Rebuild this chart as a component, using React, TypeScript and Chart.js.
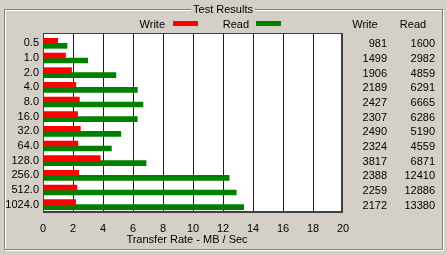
import React, { useEffect, useRef } from 'react';
import { Chart, registerables } from 'chart.js';

Chart.register(...registerables);

const blockSizes = ['0.5', '1.0', '2.0', '4.0', '8.0', '16.0', '32.0', '64.0', '128.0', '256.0', '512.0', '1024.0'];
const writeKB = [981, 1499, 1906, 2189, 2427, 2307, 2490, 2324, 3817, 2388, 2259, 2172];
const readKB = [1600, 2982, 4859, 6291, 6665, 6286, 5190, 4559, 6871, 12410, 12886, 13380];
const xTickValues = [0, 2, 4, 6, 8, 10, 12, 14, 16, 18, 20];
const seriesNames = ['Write', 'Read'];
const seriesColors = ['#ff0000', '#008000'];

const FONT_FAMILY = '"Liberation Sans", Arial, sans-serif';
const FONT = '11px ' + FONT_FAMILY;
const BG = '#d4d0c8';

export default function App() {
  const ref = useRef<HTMLCanvasElement>(null);

  useEffect(() => {
    if (!ref.current) return;

    const decor = {
      id: 'decor',
      beforeDraw(chart: any) {
        const ctx = chart.ctx as CanvasRenderingContext2D;
        ctx.save();
        ctx.fillStyle = BG;
        ctx.fillRect(0, 0, chart.width, chart.height);
        // etched group box
        ctx.lineWidth = 1;
        ctx.strokeStyle = '#ffffff';
        ctx.strokeRect(5.5, 10.5, 438, 240);
        ctx.strokeStyle = '#808080';
        ctx.strokeRect(4.5, 9.5, 438, 240);
        // group title
        ctx.font = FONT;
        const title = 'Test Results';
        const tw = ctx.measureText(title).width;
        const tx = 223;
        ctx.fillStyle = BG;
        ctx.fillRect(tx - tw / 2 - 2, 3, tw + 4, 12);
        ctx.fillStyle = '#000';
        ctx.textAlign = 'center';
        ctx.textBaseline = 'alphabetic';
        ctx.fillText(title, tx, 13);
        // plot background
        ctx.fillStyle = '#ffffff';
        ctx.fillRect(43, 33, 300, 179);
        ctx.restore();
      },
      beforeDatasetsDraw(chart: any) {
        const ctx = chart.ctx as CanvasRenderingContext2D;
        const xs = chart.scales.x;
        ctx.save();
        ctx.globalAlpha = 1;
        ctx.globalCompositeOperation = 'source-over';
        ctx.fillStyle = 'rgb(0, 0, 255)';
        xTickValues.slice(1, -1).forEach((v) => {
          const px = Math.round(xs.getPixelForValue(v));
          ctx.fillRect(px, 33, 1, 179);
        });
        ctx.restore();
      },
      afterDraw(chart: any) {
        const ctx = chart.ctx as CanvasRenderingContext2D;
        const ys = chart.scales.y;
        ctx.save();
        // plot frame
        ctx.fillStyle = '#404040';
        ctx.fillRect(43, 33, 300, 1);
        ctx.fillRect(43, 33, 1, 180);
        ctx.fillRect(341, 33, 2, 180);
        ctx.fillRect(43, 211, 300, 2);
        // legend
        ctx.font = FONT;
        ctx.textBaseline = 'alphabetic';
        ctx.textAlign = 'right';
        ctx.fillStyle = '#000';
        ctx.fillText(seriesNames[0], 165, 28);
        ctx.fillText(seriesNames[1], 249, 28);
        ctx.fillStyle = seriesColors[0];
        ctx.fillRect(173, 21, 25, 5);
        ctx.fillStyle = seriesColors[1];
        ctx.fillRect(256, 21, 25, 5);
        // table headers
        ctx.fillStyle = '#000';
        ctx.textAlign = 'center';
        ctx.fillText(seriesNames[0], 365, 28);
        ctx.fillText(seriesNames[1], 413, 28);
        // table values
        ctx.textAlign = 'right';
        blockSizes.forEach((_, i) => {
          const py = Math.round(ys.getPixelForValue(i)) + 4;
          ctx.fillText(String(writeKB[i]), 387, py);
          ctx.fillText(String(readKB[i]), 435, py);
        });
        // axis title
        ctx.textAlign = 'center';
        ctx.fillText('Transfer Rate - MB / Sec', 187, 243);
        ctx.restore();
      },
    };

    const chart = new Chart(ref.current, {
      type: 'bar',
      data: {
        labels: blockSizes,
        datasets: [
          {
            label: seriesNames[0],
            data: writeKB.map((v) => v / 1000),
            backgroundColor: seriesColors[0],
            borderWidth: 0,
            barThickness: 5,
          },
          {
            label: seriesNames[1],
            data: readKB.map((v) => v / 1000),
            backgroundColor: seriesColors[1],
            borderWidth: 0,
            barThickness: 5,
          },
        ],
      },
      options: {
        indexAxis: 'y',
        responsive: false,
        animation: false,
        devicePixelRatio: 1,
        layout: { padding: { left: 0, top: 36, right: 104, bottom: 0 } },
        plugins: {
          legend: { display: false },
          tooltip: { enabled: false },
          title: { display: false },
        },
        scales: {
          x: {
            type: 'linear',
            min: 0,
            max: 20,
            afterBuildTicks: (s: any) => {
              s.ticks = xTickValues.map((v) => ({ value: v }));
            },
            afterFit: (s: any) => {
              s.height = 43;
            },
            grid: { display: false, drawTicks: false },
            border: { display: false },
            ticks: {
              color: '#000',
              font: { family: FONT_FAMILY, size: 11 },
              padding: 10,
              maxRotation: 0,
              autoSkip: false,
            },
          },
          y: {
            type: 'category',
            afterFit: (s: any) => {
              s.width = 43;
            },
            grid: { display: false, drawTicks: false },
            border: { display: false },
            ticks: {
              color: '#000',
              font: { family: FONT_FAMILY, size: 11 },
              padding: 4,
              autoSkip: false,
            },
          },
        },
      },
      plugins: [decor],
    } as any);

    return () => chart.destroy();
  }, []);

  return (
    <div style={{ position: 'absolute', left: 0, top: 0, width: 447, height: 255, background: BG }}>
      <canvas ref={ref} width={447} height={255} style={{ display: 'block', width: 447, height: 255 }} />
    </div>
  );
}
